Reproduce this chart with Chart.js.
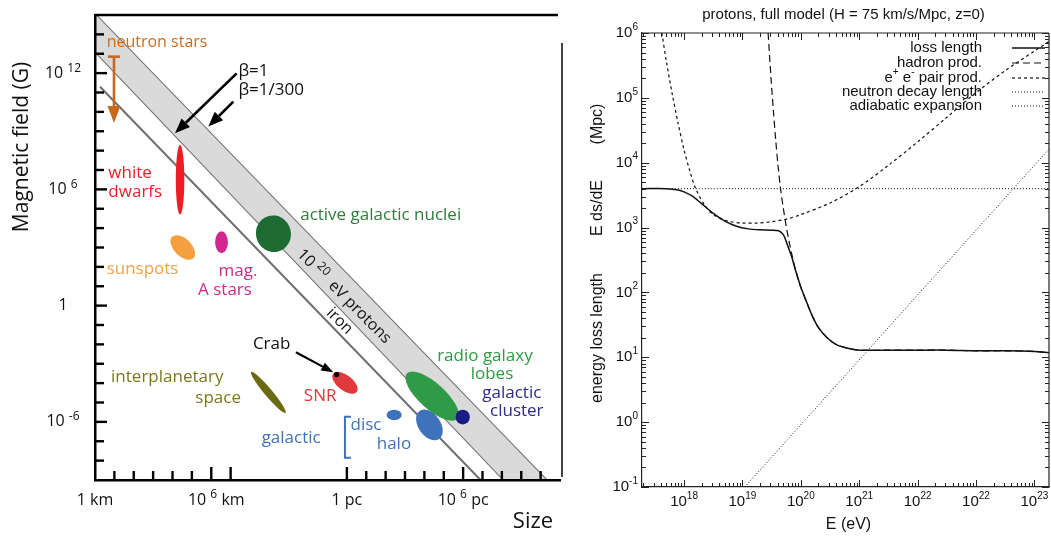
<!DOCTYPE html>
<html>
<head>
<meta charset="utf-8">
<script src="https://cdn.jsdelivr.net/npm/chart.js@4.4.1/dist/chart.umd.min.js"></script>
<style>
  html, body { margin:0; padding:0; background:#fff; }
  body { width:1051px; height:539px; position:relative; overflow:hidden; }
  .box { position:absolute; top:0; height:539px; }
  #b1 { left:0; width:566px; }
  #b2 { left:566px; width:485px; }
</style>
</head>
<body>
<div class="box" id="b1"><canvas id="c1"></canvas></div>
<div class="box" id="b2"><canvas id="c2"></canvas></div>
<script>
// ================= LEFT PANEL: Hillas diagram =================
// x = decades of size above 1 km (tick units), y = log10(B / G)
const hillasXRange = [0, 24];
const hillasYRange = [-9, 15];
const hillasYTicks = [-8,-7,-6,-5,-4,-3,-2,-1,0,1,2,3,4,5,6,7,8,9,10,11,12,13,14];
const hillasYLabelAt   = [12, 6, 0, -6];
const hillasYLabelMant = ['10', '10', '1', '10'];
const hillasYLabelExp  = ['12', '6', '', '-6'];
const hillasXTicks     = [1,2,3,4,5,6,7,13,14,15,16,17,18,19,20,21,22,23];
const hillasXLongTicks = [6, 7, 13, 19];
const hillasXLabelAt   = [0, 6, 13, 19];
const hillasXLabelMant = ['1', '10', '1', '10'];
const hillasXLabelExp  = ['', '6', '', '6'];
const hillasXLabelUnit = ['km', 'km', 'pc', 'pc'];

// Hillas lines (end points)
const bandUpperX = [0, 23.3],    bandUpperY = [15.05, -9];   // beta = 1/300
const bandLowerX = [0, 21.1],    bandLowerY = [13.11, -9];   // beta = 1
const ironLineX  = [0.26, 19.9], ironLineY  = [11.3, -9];

// source regions (ellipses)
const srcName  = ['white dwarfs','sunspots','mag. A stars','AGN','interplanetary','SNR','disc','halo','radio lobes','cluster'];
const srcX     = [4.39, 4.53, 6.53, 9.21, 8.95, 12.9, 15.44, 17.26, 17.4, 18.98];
const srcY     = [6.5, 3.0, 3.27, 3.71, -4.48, -3.98, -5.64, -6.16, -4.67, -5.75];
const srcRa    = [0.22, 0.78, 0.33, 0.9, 1.38, 0.77, 0.39, 0.88, 1.75, 0.37];
const srcRb    = [1.8, 0.45, 0.57, 0.95, 0.2, 0.4, 0.27, 0.57, 0.67, 0.38];
const srcRot   = [0, 45, 0, -15, 50, 38, 0, 55, 42, 0];
const srcColor = ['#ee1c25','#f5a03e','#d4268f','#1e6b33','#6b6a14','#e03a3e','#3e72bc','#3e72bc','#2f9a47','#1b1a86'];

// labels
const lblText  = ['neutron stars','β=1','β=1/300','white','dwarfs','sunspots','mag.','A stars','active galactic nuclei','Crab','SNR','interplanetary','space','galactic','disc','halo','radio galaxy','lobes','galactic','cluster'];
const lblX     = [0.6, 7.4, 7.4, 0.69, 0.69, 0.6, 6.38, 5.32, 10.59, 8.15, 10.78, 0.83, 5.18, 8.6, 13.19, 14.54, 17.66, 19.39, 19.99, 20.39];
const lblY     = [13.59, 12.08, 11.13, 6.84, 5.84, 1.9, 1.8, 0.82, 4.69, -2.0, -4.67, -3.7, -4.75, -6.82, -6.19, -7.16, -2.61, -3.56, -4.5, -5.45];
const lblColor = ['#cc6c1e','#111','#111','#e8202a','#e8202a','#f0a14a','#d02a8a','#d02a8a','#2e7d3c','#111','#e03a3a','#7a781c','#7a781c','#3f72b8','#3f72b8','#3f72b8','#2e9a45','#2e9a45','#2b2a86','#2b2a86'];
const lblSize  = [16, 17, 17, 17, 17, 17, 17, 17, 17, 17, 17, 17, 17, 17, 17, 17, 17, 17, 17, 17];

// neutron star range bar
const nsX = 0.98, nsTop = 12.85, nsTip = 9.42;
// arrows (beta=1, beta=1/300, Crab)
const arrowFromX = [7.31, 7.14, 10.37], arrowFromY = [11.99, 10.53, -2.41];
const arrowToX   = [4.13, 5.85, 12.3],  arrowToY   = [8.9, 9.24, -3.44];
const crabDotX = 12.47, crabDotY = -3.56;
const bracketX = 12.9, bracketTop = -5.74, bracketBottom = -7.85;
// rotated labels inside the band
const protonLblX = 12.85, protonLblY = 0.48;
const ironLblX = 12.62, ironLblY = -0.8;

const LF = '"Open Sans", "DejaVu Sans", sans-serif';
const RF = '"Liberation Sans", Arial, sans-serif';

function richWidth(ctx, parts, fam) {
  let w = 0;
  parts.forEach(p => { ctx.font = p.s + 'px ' + fam; w += ctx.measureText(p.t).width; });
  return w;
}
function drawRich(ctx, x, y, parts, fam, align, color) {
  const w = richWidth(ctx, parts, fam);
  let cx = align === 'center' ? x - w / 2 : (align === 'right' ? x - w : x);
  ctx.fillStyle = color; ctx.textAlign = 'left'; ctx.textBaseline = 'middle';
  parts.forEach(p => { ctx.font = p.s + 'px ' + fam; ctx.fillText(p.t, cx, y + (p.dy || 0)); cx += ctx.measureText(p.t).width; });
}
function seg(ctx, x0, y0, x1, y1) { ctx.beginPath(); ctx.moveTo(x0, y0); ctx.lineTo(x1, y1); ctx.stroke(); }
function arrow(ctx, x0, y0, x1, y1, lw, hl, hw, color) {
  const ang = Math.atan2(y1 - y0, x1 - x0);
  const bx = x1 - hl * Math.cos(ang), by = y1 - hl * Math.sin(ang);
  ctx.strokeStyle = color; ctx.fillStyle = color; ctx.lineWidth = lw; ctx.lineCap = 'butt';
  seg(ctx, x0, y0, bx, by);
  ctx.beginPath(); ctx.moveTo(x1, y1);
  ctx.lineTo(bx + hw / 2 * Math.sin(ang), by - hw / 2 * Math.cos(ang));
  ctx.lineTo(bx - hw / 2 * Math.sin(ang), by + hw / 2 * Math.cos(ang));
  ctx.closePath(); ctx.fill();
}
const pts = (xs, ys) => xs.map((v, i) => ({x: v, y: ys[i]}));

const hillasPlugin = {
  id: 'hillas',
  afterDatasetsDraw(chart) {
    const {ctx, chartArea: a, scales: {x, y}} = chart;
    const px = u => x.getPixelForValue(u), py = v => y.getPixelForValue(v);
    const ux = px(1) - px(0), uy = py(0) - py(1);
    ctx.save();
    ctx.beginPath(); ctx.rect(a.left, a.top, a.right - a.left, a.bottom - a.top); ctx.clip();
    srcX.forEach((cx, i) => {
      ctx.beginPath();
      ctx.ellipse(px(cx), py(srcY[i]), srcRa[i] * ux, srcRb[i] * uy, srcRot[i] * Math.PI / 180, 0, 2 * Math.PI);
      ctx.fillStyle = srcColor[i]; ctx.fill();
    });
    // neutron star bar with arrow
    const nc = '#c8681e';
    const nx = px(nsX);
    ctx.strokeStyle = nc; ctx.lineWidth = 2.6;
    seg(ctx, nx - 6, py(nsTop), nx + 6, py(nsTop));
    arrow(ctx, nx, py(nsTop), nx, py(nsTip), 2.6, 17, 13, nc);
    // arrows
    arrow(ctx, px(arrowFromX[0]), py(arrowFromY[0]), px(arrowToX[0]), py(arrowToY[0]), 2.6, 15, 12, '#000');
    arrow(ctx, px(arrowFromX[1]), py(arrowFromY[1]), px(arrowToX[1]), py(arrowToY[1]), 2.6, 15, 12, '#000');
    arrow(ctx, px(arrowFromX[2]), py(arrowFromY[2]), px(arrowToX[2]), py(arrowToY[2]), 2.2, 12, 9, '#000');
    ctx.beginPath(); ctx.arc(px(crabDotX), py(crabDotY), 2.6, 0, 2 * Math.PI); ctx.fillStyle = '#000'; ctx.fill();
    // bracket
    ctx.strokeStyle = '#3f72b8'; ctx.lineWidth = 2;
    ctx.beginPath();
    ctx.moveTo(px(bracketX) + 6, py(bracketTop)); ctx.lineTo(px(bracketX), py(bracketTop));
    ctx.lineTo(px(bracketX), py(bracketBottom)); ctx.lineTo(px(bracketX) + 6, py(bracketBottom));
    ctx.stroke();
    ctx.restore();
  },
  afterDraw(chart) {
    const {ctx, chartArea: a, scales: {x, y}} = chart;
    const px = u => x.getPixelForValue(u), py = v => y.getPixelForValue(v);
    ctx.save();
    // frame top + separator
    ctx.strokeStyle = '#000'; ctx.lineWidth = 2.5;
    seg(ctx, a.left, a.top, a.right - 2, a.top);
    ctx.strokeStyle = '#444'; ctx.lineWidth = 2;
    seg(ctx, 562, 43, 562, 477);
    // ticks
    ctx.strokeStyle = '#000'; ctx.lineWidth = 2.4;
    hillasYTicks.forEach(v => { const L = hillasYLabelAt.includes(v) ? 12 : 9; seg(ctx, a.left, py(v), a.left + L, py(v)); });
    hillasXTicks.forEach(u => { const L = hillasXLongTicks.includes(u) ? 13 : 9; seg(ctx, px(u), a.bottom, px(u), a.bottom - L); });
    // tick labels
    hillasYLabelAt.forEach((v, i) => {
      const parts = hillasYLabelExp[i] ? [{t: hillasYLabelMant[i], s: 16}, {t: ' ', s: 16}, {t: hillasYLabelExp[i], s: 12, dy: -5}] : [{t: hillasYLabelMant[i], s: 16}];
      drawRich(ctx, 63, py(v), parts, LF, 'center', '#111');
    });
    hillasXLabelAt.forEach((u, i) => {
      const parts = hillasXLabelExp[i]
        ? [{t: hillasXLabelMant[i], s: 16}, {t: ' ', s: 16}, {t: hillasXLabelExp[i], s: 12, dy: -5}, {t: ' ' + hillasXLabelUnit[i], s: 16}]
        : [{t: hillasXLabelMant[i] + ' ' + hillasXLabelUnit[i], s: 16}];
      drawRich(ctx, px(u) + (i === 1 ? 5 : 0), 500, parts, LF, 'center', '#111');
    });
    // axis titles
    ctx.save(); ctx.translate(22, 147); ctx.rotate(-Math.PI / 2);
    drawRich(ctx, 0, 0, [{t: 'Magnetic field (G)', s: 21}], LF, 'center', '#111');
    ctx.restore();
    drawRich(ctx, 533, 522, [{t: 'Size', s: 22}], LF, 'center', '#111');
    // labels
    lblText.forEach((t, i) => drawRich(ctx, px(lblX[i]), py(lblY[i]), [{t, s: lblSize[i]}], LF, 'left', lblColor[i]));
    // rotated labels
    ctx.save(); ctx.translate(px(protonLblX), py(protonLblY)); ctx.rotate(Math.PI / 4);
    drawRich(ctx, 0, 0, [{t: '10', s: 16}, {t: ' ', s: 16}, {t: '20', s: 12, dy: -5}, {t: '  eV protons', s: 16}], LF, 'center', '#111');
    ctx.restore();
    ctx.save(); ctx.translate(px(ironLblX), py(ironLblY)); ctx.rotate(Math.PI / 4);
    drawRich(ctx, 0, 0, [{t: 'iron', s: 16}], LF, 'center', '#111');
    ctx.restore();
    ctx.restore();
  }
};

new Chart(document.getElementById('c1'), {
  type: 'scatter',
  data: { datasets: [
    { data: [...pts(bandUpperX, bandUpperY), ...pts(bandLowerX.slice().reverse(), bandLowerY.slice().reverse())],
      showLine: true, fill: 'shape', backgroundColor: '#dadada', borderWidth: 0, pointRadius: 0 },
    { data: pts(bandUpperX, bandUpperY), showLine: true, borderColor: '#6e6e6e', borderWidth: 2, pointRadius: 0 },
    { data: pts(bandLowerX, bandLowerY), showLine: true, borderColor: '#6e6e6e', borderWidth: 2, pointRadius: 0 },
    { data: pts(ironLineX, ironLineY),   showLine: true, borderColor: '#6e6e6e', borderWidth: 2, pointRadius: 0 }
  ]},
  options: {
    responsive: true, maintainAspectRatio: false, animation: false, events: [],
    layout: { padding: { left: 95, top: 15, right: 6, bottom: 59 } },
    plugins: { legend: { display: false }, tooltip: { enabled: false } },
    scales: {
      x: { type: 'linear', min: hillasXRange[0], max: hillasXRange[1],
           ticks: { display: false }, grid: { display: false, drawTicks: false },
           border: { display: true, color: '#000', width: 2.5, z: 1 } },
      y: { type: 'linear', min: hillasYRange[0], max: hillasYRange[1],
           ticks: { display: false }, grid: { display: false, drawTicks: false },
           border: { display: true, color: '#000', width: 2.5, z: 1 } }
    }
  },
  plugins: [hillasPlugin]
});

// ================= RIGHT PANEL: energy loss length =================
const eRange = [17.28, 24.25];            // log10(E/eV)
const lRange = [-1, 6];                   // log10(L/Mpc)
const eMajor    = [18, 19, 20, 21, 22, 23, 24];
const eMajorExp = ['18', '19', '20', '21', '22', '22', '23'];   // as printed
const lMajor    = [-1, 0, 1, 2, 3, 4, 5, 6];
const lMajorExp = ['-1', '0', '1', '2', '3', '4', '5', '6'];

// curves: log10 E and log10 L
const lossE = [17.28, 17.7, 17.9, 18.0, 18.15, 18.3, 18.5, 18.7, 18.9, 19.1, 19.3, 19.5, 19.62, 19.7, 19.76, 19.8, 19.85, 19.9, 19.95, 20.0, 20.1, 20.2, 20.3, 20.45, 20.6, 20.8, 21.0, 21.5, 22.0, 22.5, 23.0, 23.5, 24.0, 24.25];
const lossL = [3.60, 3.60, 3.58, 3.55, 3.48, 3.37, 3.22, 3.10, 3.02, 2.98, 2.965, 2.96, 2.95, 2.89, 2.76, 2.66, 2.53, 2.37, 2.22, 2.08, 1.85, 1.63, 1.46, 1.30, 1.20, 1.14, 1.11, 1.11, 1.11, 1.11, 1.10, 1.10, 1.09, 1.07];
const hadE  = [19.44, 19.49, 19.53, 19.57, 19.61, 19.65, 19.7, 19.75, 19.8, 19.85, 19.9, 19.95, 20.0, 20.1, 20.2, 20.3, 20.45, 20.6, 20.8, 21.0, 21.5, 22.0, 22.5, 23.0, 23.5, 24.0, 24.25];
const hadL  = [6.0, 5.3, 4.8, 4.35, 3.95, 3.62, 3.3, 3.02, 2.78, 2.57, 2.38, 2.22, 2.08, 1.85, 1.63, 1.46, 1.30, 1.20, 1.14, 1.11, 1.11, 1.11, 1.11, 1.10, 1.10, 1.09, 1.07];
const pairE = [17.62, 17.7, 17.8, 17.9, 18.0, 18.1, 18.2, 18.35, 18.5, 18.75, 19.0, 19.25, 19.5, 19.75, 20.0, 20.5, 21.0, 21.5, 22.0, 22.5, 23.0, 23.5, 24.0, 24.25];
const pairL = [6.0, 5.55, 5.05, 4.6, 4.2, 3.87, 3.6, 3.35, 3.2, 3.1, 3.07, 3.07, 3.09, 3.13, 3.2, 3.38, 3.63, 3.96, 4.32, 4.7, 5.08, 5.42, 5.72, 5.87];
const neutronE = [19.04, 24.25];
const neutronL = [-1, 4.21];
const adiabE = [17.28, 24.25];
const adiabL = [3.6, 3.6];

const seriesNames = ['loss length', 'hadron prod.', 'e+ e- pair prod.', 'neutron decay length', 'adiabatic expansion'];
const seriesDash  = [[], [7, 4], [3, 3], [1, 2], [1, 2]];
const seriesWidth = [1.5, 1.2, 1.2, 1, 1];
const legendY = [48, 63, 78, 92, 106];

const lp = (es, ls) => es.map((e, i) => ({x: Math.pow(10, e), y: Math.pow(10, ls[i])}));
const curveSets = [[lossE, lossL], [hadE, hadL], [pairE, pairL], [neutronE, neutronL], [adiabE, adiabL]];

const lossPlugin = {
  id: 'loss',
  afterDraw(chart) {
    const {ctx, chartArea: a, scales: {x, y}} = chart;
    const px = e => x.getPixelForValue(Math.pow(10, e)), py = l => y.getPixelForValue(Math.pow(10, l));
    ctx.save();
    ctx.strokeStyle = '#222'; ctx.lineWidth = 1.2;
    seg(ctx, a.left, a.top, a.right, a.top);
    seg(ctx, a.right, a.top, a.right, a.bottom);
    // ticks
    ctx.lineWidth = 1;
    for (let n = 17; n <= 24; n++) for (let k = 1; k <= 9; k++) {
      const v = n + Math.log10(k);
      if (v < eRange[0] || v > eRange[1]) continue;
      const X = Math.round(px(v)) + 0.5, L = k === 1 ? 7 : 4;
      seg(ctx, X, a.bottom, X, a.bottom - L); seg(ctx, X, a.top, X, a.top + L);
    }
    for (let n = -1; n <= 6; n++) for (let k = 1; k <= 9; k++) {
      const v = n + Math.log10(k);
      if (v < lRange[0] || v > lRange[1]) continue;
      const Y = Math.round(py(v)) + 0.5, L = k === 1 ? 7 : 4;
      seg(ctx, a.left, Y, a.left + L, Y); seg(ctx, a.right, Y, a.right - L, Y);
    }
    // tick labels
    eMajor.forEach((e, i) => drawRich(ctx, px(e), a.bottom + 15, [{t: '10', s: 15}, {t: eMajorExp[i], s: 10, dy: -6}], RF, 'center', '#111'));
    lMajor.forEach((l, i) => drawRich(ctx, a.left - 4, py(l), [{t: '10', s: 15}, {t: lMajorExp[i], s: 10, dy: -6}], RF, 'right', '#111'));
    // titles
    drawRich(ctx, (a.left + a.right) / 2 - 2, 15, [{t: 'protons, full model (H = 75 km/s/Mpc, z=0)', s: 15}], RF, 'center', '#111');
    drawRich(ctx, (a.left + a.right) / 2 + 3, 525, [{t: 'E (eV)', s: 16}], RF, 'center', '#111');
    ctx.save(); ctx.translate(32, 0); ctx.rotate(-Math.PI / 2);
    drawRich(ctx, -338, 0, [{t: 'energy loss length', s: 16}], RF, 'center', '#111');
    drawRich(ctx, -208, 0, [{t: 'E ds/dE', s: 16}], RF, 'center', '#111');
    drawRich(ctx, -124, 0, [{t: '(Mpc)', s: 16}], RF, 'center', '#111');
    ctx.restore();
    // legend
    const tx = 416, s0 = 446, s1 = 479;
    seriesNames.forEach((n, i) => {
      const parts = i === 2
        ? [{t: 'e', s: 15}, {t: '+', s: 10, dy: -6}, {t: ' e', s: 15}, {t: '-', s: 10, dy: -6}, {t: ' pair prod.', s: 15}]
        : [{t: n, s: 15}];
      drawRich(ctx, tx, legendY[i], parts, RF, 'right', '#111');
      ctx.strokeStyle = '#111'; ctx.lineWidth = seriesWidth[i]; ctx.setLineDash(seriesDash[i]);
      seg(ctx, s0, legendY[i], s1, legendY[i]);
      ctx.setLineDash([]);
    });
    ctx.restore();
  }
};

new Chart(document.getElementById('c2'), {
  type: 'scatter',
  data: { datasets: curveSets.map((c, i) => ({
    label: seriesNames[i], data: lp(c[0], c[1]), showLine: true, pointRadius: 0,
    borderColor: '#111', borderWidth: seriesWidth[i], borderDash: seriesDash[i], tension: 0.3, fill: false
  })) },
  options: {
    responsive: true, maintainAspectRatio: false, animation: false, events: [],
    layout: { padding: { left: 76, top: 33, right: 2, bottom: 52 } },
    plugins: { legend: { display: false }, tooltip: { enabled: false } },
    scales: {
      x: { type: 'logarithmic', min: Math.pow(10, eRange[0]), max: Math.pow(10, eRange[1]),
           ticks: { display: false }, grid: { display: false, drawTicks: false },
           border: { display: true, color: '#222', width: 1.2, z: 1 } },
      y: { type: 'logarithmic', min: Math.pow(10, lRange[0]), max: Math.pow(10, lRange[1]),
           ticks: { display: false }, grid: { display: false, drawTicks: false },
           border: { display: true, color: '#222', width: 1.2, z: 1 } }
    }
  },
  plugins: [lossPlugin]
});
</script>
</body>
</html>
